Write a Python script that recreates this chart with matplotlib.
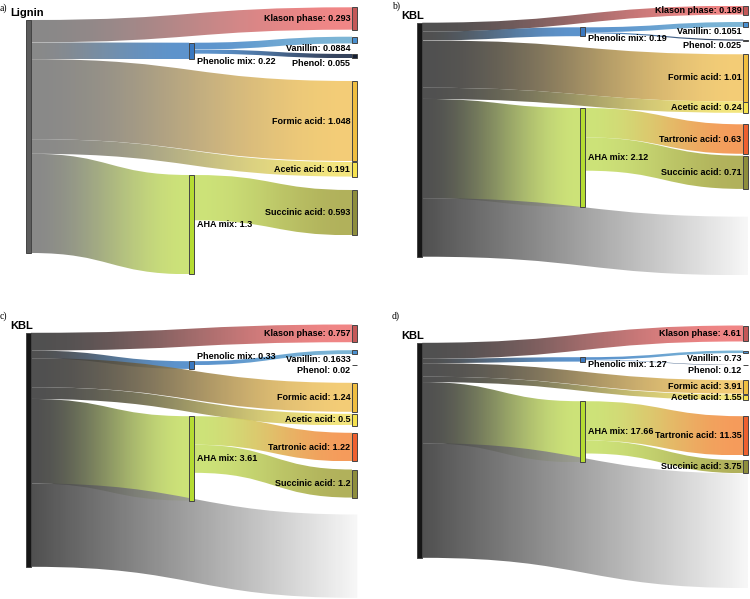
import matplotlib

matplotlib.use("Agg")

import matplotlib.pyplot as plt
import numpy as np
from matplotlib.colors import to_rgb
from matplotlib.patches import PathPatch, Rectangle
from matplotlib.path import Path


PANEL_TAGS = ["a)", "b)", "c)", "d)"]
SOURCES = ["Lignin", "KBL", "KBL", "KBL"]

# flows leaving the source node
klason = [0.293, 0.189, 0.757, 4.61]
phenolic_mix = [0.22, 0.19, 0.33, 1.27]
formic = [1.048, 1.01, 1.24, 3.91]
acetic = [0.191, 0.24, 0.5, 1.55]
aha_mix = [1.3, 2.12, 3.61, 17.66]
unassigned = [0.0, 1.251, 3.563, 33.1]
# phenolic mix -> products
vanillin = [0.0884, 0.1051, 0.1633, 0.73]
phenol = [0.055, 0.025, 0.02, 0.12]
# AHA mix -> products
tartronic = [0.0, 0.63, 1.22, 11.35]
succinic = [0.593, 0.71, 1.2, 3.75]

LINK_COLORS = {
    "Lignin": "#7c7c7c",
    "KBL": "#3c3c3c",
    "Klason phase": "#f07878",
    "Phenolic mix": "#4a88c8",
    "Vanillin": "#6eaed2",
    "Phenol": "#1e2d4a",
    "Formic acid": "#f3c868",
    "Acetic acid": "#f3e470",
    "AHA mix": "#c8e06a",
    "Tartronic acid": "#f59048",
    "Succinic acid": "#a8a848",
}
NODE_COLORS = {
    "Lignin": "#5c5c5c",
    "KBL": "#161616",
    "Klason phase": "#c45858",
    "Phenolic mix": "#3a78c0",
    "Vanillin": "#4a90d0",
    "Phenol": "#151f35",
    "Formic acid": "#f0be40",
    "Acetic acid": "#f6e24e",
    "AHA mix": "#b5dc32",
    "Tartronic acid": "#ee6030",
    "Succinic acid": "#8e8e3c",
}
FADE_COLOR = "#f7f7f7"

# layout, in pixels inside each 375 x 299.5 quadrant
QW, QH = 375, 299.5
NODE_W = 5
COL_X = [(26, 189.3, 352.3), (42.3, 205, 368.3), (26, 189.3, 352.3), (42.3, 205, 368.3)]
SRC_TOP = [20, 22.7, 33.3, 43.3]
SRC_H = [233, 234, 234, 215]
MID_TOP = {"Phenolic mix": [42.7, 27.3, 61.7, 57.7], "AHA mix": [175, 108, 116.7, 101.7]}
RIGHT_TOP = {
    "Klason phase": [7.3, 5.7, 25, 26],
    "Vanillin": [36.7, 22, 50.7, 51],
    "Phenol": [54, 39.5, 65.5, 65.5],
    "Formic acid": [81, 54.3, 83.3, 80.7],
    "Acetic acid": [162, 101.6, 114.3, 95],
    "Tartronic acid": [None, 124.3, 133.3, 116.7],
    "Succinic acid": [190, 155.7, 170, 160.7],
}
REST_TOP = [None, 216.7, 215, 174]
TAG_XY = [(0, 8), (17, 6), (0, 16.7), (16.7, 16.7)]
PHENOLIC_LABEL = ["below", "below", "above", "below"]
LABEL_BELOW = {"Vanillin", "Phenol"}

LABEL_FONT = dict(family="Liberation Sans", fontweight="bold", fontsize=6.5, color="black")


def draw_link(ax, x0, y0, x1, y1, h, c0, c1, ease=True):
    xm = (x0 + x1) / 2
    verts = [
        (x0, y0), (xm, y0), (xm, y1), (x1, y1),
        (x1, y1 + h), (xm, y1 + h), (xm, y0 + h), (x0, y0 + h), (x0, y0),
    ]
    codes = [
        Path.MOVETO, Path.CURVE4, Path.CURVE4, Path.CURVE4,
        Path.LINETO, Path.CURVE4, Path.CURVE4, Path.CURVE4, Path.CLOSEPOLY,
    ]
    patch = PathPatch(Path(verts, codes), facecolor="none", edgecolor="none")
    ax.add_patch(patch)

    t = np.linspace(0, 1, 256)
    if ease:
        t = t * t * (3 - 2 * t)
    cols = (1 - t)[:, None] * np.array(to_rgb(c0)) + t[:, None] * np.array(to_rgb(c1))
    top, bottom = min(y0, y1), max(y0, y1) + h
    im = ax.imshow(
        cols[None, :, :],
        extent=(x0, x1, bottom, top),
        aspect="auto",
        alpha=0.9,
        interpolation="bilinear",
        zorder=1,
    )
    im.set_clip_path(patch)


def draw_node(ax, x, y, h, name):
    ax.add_patch(Rectangle(
        (x, y), NODE_W, h,
        facecolor=NODE_COLORS[name], edgecolor="#444444", linewidth=0.7, zorder=3,
    ))


def draw_panel(ax, i):
    x_src, x_mid, x_right = COL_X[i]
    src = SOURCES[i]
    outflows = [
        ("Klason phase", klason[i]),
        ("Phenolic mix", phenolic_mix[i]),
        ("Formic acid", formic[i]),
        ("Acetic acid", acetic[i]),
        ("AHA mix", aha_mix[i]),
    ]
    total = sum(v for _, v in outflows) + unassigned[i]
    scale = SRC_H[i] / total

    # source -> first level
    cursor = SRC_TOP[i]
    for name, v in outflows:
        h = v * scale
        if name in MID_TOP:
            x1, y1 = x_mid, MID_TOP[name][i]
        else:
            x1, y1 = x_right, RIGHT_TOP[name][i]
        draw_link(ax, x_src + NODE_W, cursor, x1, y1, h, LINK_COLORS[src], LINK_COLORS[name])
        cursor += h
    if unassigned[i] > 0:
        draw_link(ax, x_src + NODE_W, cursor, x_right + NODE_W, REST_TOP[i],
                  unassigned[i] * scale, LINK_COLORS[src], FADE_COLOR, ease=False)

    # mixes -> products
    children = {
        "Phenolic mix": [("Vanillin", vanillin[i]), ("Phenol", phenol[i])],
        "AHA mix": [("Tartronic acid", tartronic[i]), ("Succinic acid", succinic[i])],
    }
    for mix, products in children.items():
        cursor = MID_TOP[mix][i]
        for name, v in products:
            if v <= 0:
                continue
            h = v * scale
            draw_link(ax, x_mid + NODE_W, cursor, x_right, RIGHT_TOP[name][i], h,
                      LINK_COLORS[mix], LINK_COLORS[name])
            cursor += h

    # nodes and labels
    draw_node(ax, x_src, SRC_TOP[i], total * scale, src)
    ax.text(x_src - 16, SRC_TOP[i] - 7, src, ha="left", va="center",
            family="Liberation Sans", fontweight="bold", fontsize=8, zorder=5)

    mix_values = {"Phenolic mix": phenolic_mix[i], "AHA mix": aha_mix[i]}
    for name, v in mix_values.items():
        y, h = MID_TOP[name][i], v * scale
        draw_node(ax, x_mid, y, h, name)
        if name == "Phenolic mix" and PHENOLIC_LABEL[i] == "above":
            ty, va = y - 0.5, "bottom"
        elif name == "Phenolic mix":
            ty, va = y + h + 2.5, "center"
        else:
            ty, va = y + h / 2, "center"
        ax.text(x_mid + NODE_W + 2.5, ty, f"{name}: {v:g}", ha="left", va=va, zorder=5, **LABEL_FONT)

    right_values = {
        "Klason phase": klason[i],
        "Vanillin": vanillin[i],
        "Phenol": phenol[i],
        "Formic acid": formic[i],
        "Acetic acid": acetic[i],
        "Tartronic acid": tartronic[i],
        "Succinic acid": succinic[i],
    }
    for name, v in right_values.items():
        if v <= 0:
            continue
        y, h = RIGHT_TOP[name][i], v * scale
        draw_node(ax, x_right, y, h, name)
        if name in LABEL_BELOW:
            ty, va = y + h + 0.5, "top"
        else:
            ty, va = y + h / 2, "center"
        ax.text(x_right - 2, ty, f"{name}: {v:g}", ha="right", va=va, zorder=5, **LABEL_FONT)

    tx, ty = TAG_XY[i]
    ax.text(tx, ty, PANEL_TAGS[i], ha="left", va="center",
            family="Liberation Serif", fontsize=7, zorder=5)

    ax.set_xlim(0, QW)
    ax.set_ylim(QH, 0)
    ax.axis("off")


def main() -> None:
    fig = plt.figure(figsize=(7.5, 5.99), dpi=100)
    for i in range(4):
        row, col = divmod(i, 2)
        ax = fig.add_axes([col * 0.5, 1 - (row + 1) * 0.5, 0.5, 0.5])
        draw_panel(ax, i)
    fig.savefig("out.png", dpi=100, facecolor="white")
    plt.close(fig)


if __name__ == "__main__":
    main()
